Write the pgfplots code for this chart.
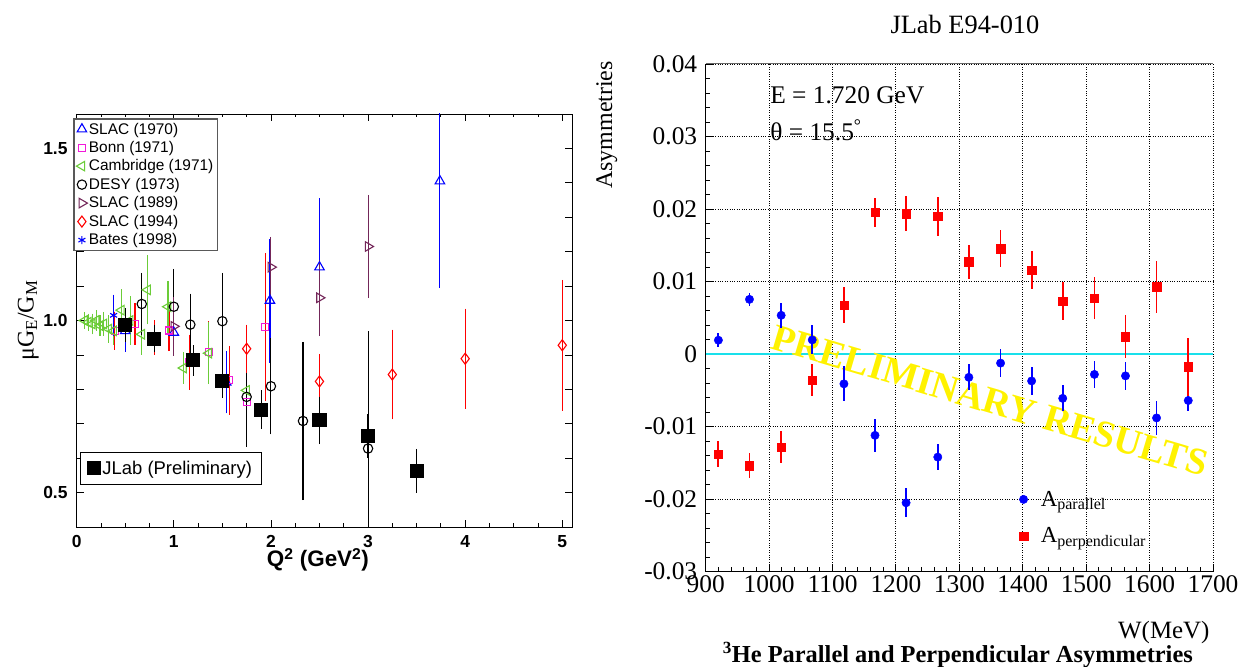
\documentclass[border=0pt]{standalone}
\usepackage{fontspec}
\setmainfont{Liberation Serif}
\newfontfamily\arial{Liberation Sans}
\usepackage{pgfplots}
\pgfplotsset{compat=1.18}

\definecolor{slacA}{rgb}{0,0,1}
\definecolor{bonn}{rgb}{0.95,0.1,0.85}
\definecolor{camb}{rgb}{0.42,0.8,0.22}
\definecolor{slacB}{rgb}{0.45,0.15,0.35}
\definecolor{zeroline}{rgb}{0.1,0.88,0.92}

\pgfplotsset{
  ebar/.style={only marks, line width=1.1bp,
    error bars/y dir=both, error bars/y explicit,
    error bars/error bar style={line width=1.1bp},
    error bars/error mark options={mark size=3.5bp, line width=1.1bp}},
  lbox/.style={scale only axis, width=495.3bp, height=413bp,
    at={(76.7bp,140bp)}, anchor=south west,
    xmin=0, xmax=5.1, ymin=0.4, ymax=1.6},
}

\begin{document}
\begin{tikzpicture}
\useasboundingbox (0,0) rectangle (1245bp,667bp);

% ---------------- left panel: muGE/GM vs Q2 ----------------
\begin{axis}[lbox,
  xtick={0,1,2,3,4,5}, minor x tick num=3,
  ytick={0.4,0.5,0.6,0.7,0.8,0.9,1.0,1.1,1.2,1.3,1.4,1.5,1.6},
  yticklabels={,0.5,,,,,1.0,,,,,1.5,},
  tick align=inside, major tick length=7bp, minor tick length=3.5bp,
  axis line style={line width=0.9bp},
  every tick/.style={black, line width=0.8bp},
  ticklabel style={font=\arial\bfseries\fontsize{17.5}{17.5}\selectfont, inner sep=1bp},
  xticklabel style={yshift=-7bp}, yticklabel style={xshift=-8bp},
  /pgf/number format/assume math mode=true,
  xlabel={Q\textsuperscript{2} (GeV\textsuperscript{2})},
  xlabel style={at={(axis description cs:0.487,-0.08)}, anchor=center,
    font=\arial\bfseries\fontsize{22.5}{22.5}\selectfont},
  ylabel={μG\textsubscript{E}/G\textsubscript{M}},
  ylabel style={at={(axis description cs:-0.098,0.5)}, anchor=center,
    font=\fontsize{24}{24}\selectfont},
  legend style={at={(axis description cs:-0.007,0.99)}, anchor=north west,
    draw=black!65, line width=1.4bp, fill=white,
    font=\arial\fontsize{15.5}{15.5}\selectfont,
    inner sep=2.5bp, row sep=2.8bp, nodes={inner sep=1.5bp}},
  legend cell align=left,
]
\addplot[ebar, slacA, mark=triangle, mark size=5.5bp] table[row sep=\\, y error index=2] {
0.50 0.970 0.05\\ 1.00 0.965 0.05\\ 1.54 0.820 0.08\\ 1.99 1.058 0.17\\
2.50 1.155 0.19\\ 3.74 1.405 0.30\\};
\addlegendentry{SLAC (1970)}
\addplot[ebar, bonn, mark=square, mark size=3.5bp,
  error bars/error bar style={red, line width=1.1bp},
  error bars/error mark options={red, mark size=3.5bp, line width=1.1bp}]
  table[row sep=\\, y error index=2] {
0.39 0.970 0.045\\ 0.60 0.990 0.05\\ 0.80 0.950 0.04\\ 0.95 0.971 0.05\\
1.16 0.879 0.07\\ 1.36 0.908 0.08\\ 1.57 0.826 0.09\\ 1.75 0.763 0.05\\
1.94 0.980 0.205\\};
\addlegendentry{Bonn (1971)}
\addplot[ebar, camb, mark=triangle, mark size=5.5bp, mark options={rotate=90}]
  table[row sep=\\, y error index=2] {
0.08 1.000 0.015\\ 0.12 0.995 0.015\\ 0.16 0.990 0.02\\ 0.20 1.000 0.02\\
0.24 0.985 0.02\\ 0.28 0.990 0.025\\ 0.33 0.975 0.03\\ 0.38 0.970 0.03\\
0.46 1.030 0.05\\ 0.55 1.000 0.06\\ 0.67 0.960 0.05\\ 0.73 1.089 0.09\\
0.94 1.040 0.065\\ 1.10 0.862 0.035\\ 1.36 0.905 0.08\\ 1.75 0.797 0.04\\};
\addlegendentry{Cambridge (1971)}
\addplot[ebar, black, mark=o, mark size=4.7bp] table[row sep=\\, y error index=2] {
0.67 1.048 0.08\\ 1.00 1.040 0.10\\ 1.17 0.988 0.08\\ 1.50 0.998 0.13\\
1.75 0.778 0.135\\ 2.00 0.809 0.13\\ 2.33 0.708 0.22\\ 3.00 0.628 0.33\\};
\addlegendentry{DESY (1973)}
\addplot[ebar, slacB, mark=triangle, mark size=5.5bp, mark options={rotate=-90}]
  table[row sep=\\, y error index=2] {
1.00 0.983 0.075\\ 2.00 1.155 0.078\\ 2.50 1.066 0.10\\ 3.00 1.215 0.14\\};
\addlegendentry{SLAC (1989)}
\addplot[ebar, red, mark=diamond, mark size=5.5bp] table[row sep=\\, y error index=2] {
1.75 0.918 0.06\\ 2.50 0.823 0.07\\ 3.25 0.843 0.12\\ 4.00 0.889 0.135\\
5.00 0.928 0.18\\};
\addlegendentry{SLAC (1994)}
\addplot[ebar, slacA, mark=asterisk, mark size=4bp] table[row sep=\\, y error index=2] {
0.38 1.015 0.05\\};
\addlegendentry{Bates (1998)}
\end{axis}

% JLab points, drawn on top with their own legend
\begin{axis}[lbox, hide axis,
  legend style={at={(axis description cs:0.0067,0.182)}, anchor=north west,
    draw=black, line width=0.9bp, fill=white,
    font=\arial\fontsize{18.5}{18.5}\selectfont,
    inner xsep=7bp, inner ysep=6.5bp, nodes={inner sep=2bp}},
]
\addplot[ebar, black, mark=square*, mark size=6.5bp,
  error bars/error mark options={mark size=6.5bp, line width=1.4bp},
  error bars/error bar style={line width=1.4bp}]
  table[row sep=\\, y error index=2] {
0.50 0.986 0.03\\ 0.80 0.947 0.02\\ 1.20 0.884 0.025\\ 1.50 0.823 0.03\\
1.90 0.741 0.037\\ 2.50 0.710 0.05\\ 3.00 0.664 0.045\\ 3.50 0.563 0.045\\};
\addlegendentry{JLab (Preliminary)}
\end{axis}

% ---------------- right panel: asymmetries vs W ----------------
\begin{axis}[scale only axis, width=507.3bp, height=507.7bp,
  at={(705.7bp,95.3bp)}, anchor=south west,
  xmin=900, xmax=1700, ymin=-0.03, ymax=0.04,
  clip mode=individual,
  xtick={900,1000,1100,1200,1300,1400,1500,1600,1700}, minor x tick num=4,
  ytick={-0.03,-0.02,-0.01,0,0.01,0.02,0.03,0.04},
  yticklabels={-0.03,-0.02,-0.01,0,0.01,0.02,0.03,0.04},
  scaled y ticks=false,
  minor y tick num=4,
  axis lines=left, axis line style={-, line width=1.1bp},
  tick align=inside, major tick length=7bp, minor tick length=4.5bp,
  every tick/.style={black, line width=0.9bp},
  grid=major, grid style={dotted, black, line width=0.9bp},
  ticklabel style={font=\fontsize{25.5}{25.5}\selectfont},
  yticklabel style={xshift=-5bp},
  /pgf/number format/assume math mode=true,
  /pgf/number format/1000 sep={},
  title={JLab E94-010},
  title style={at={(axis description cs:0.511,1.066)}, anchor=center,
    font=\fontsize{26.5}{26.5}\selectfont},
  xlabel={W(MeV)},
  xlabel style={at={(axis description cs:1,-0.119)}, anchor=east,
    font=\fontsize{25}{25}\selectfont},
  ylabel={Asymmetries},
  ylabel style={at={(axis description cs:-0.195,0.88)}, anchor=center,
    font=\fontsize{24}{24}\selectfont},
  legend style={draw=none, fill=none, at={(axis description cs:0.612,0.167)},
    anchor=north west, font=\fontsize{23}{23}\selectfont, row sep=16bp},
  legend cell align=left,
]
\draw[black!60, line width=1bp] (rel axis cs:0,1) -- (rel axis cs:1,1);
\addplot[zeroline, line width=2bp, forget plot] coordinates {(900,0) (1700,0)};
\node[rotate=-16.5, text=yellow, font=\bfseries\fontsize{38}{38}\selectfont]
  at (axis cs:1348,-0.0064) {PRELIMINARY RESULTS};
\node[anchor=west, font=\fontsize{25.5}{25.5}\selectfont, inner sep=0]
  at (axis description cs:0.127,0.939) {E = 1.720 GeV};
\node[anchor=west, font=\fontsize{25.5}{25.5}\selectfont, inner sep=0]
  at (axis description cs:0.127,0.870) {θ = 15.5\textsuperscript{°}};
\node[font=\bfseries\fontsize{24.5}{24.5}\selectfont]
  at (axis description cs:0.497,-0.164) {\textsuperscript{3}He Parallel and Perpendicular Asymmetries};

\addplot[only marks, blue, mark=*, mark size=4.2bp,
  error bars/.cd, y dir=both, y explicit, error mark=none,
  error bar style={line width=1.8bp}]
  table[row sep=\\, y error index=2] {
920 0.00192 0.0010\\ 969 0.00755 0.0009\\ 1019 0.00535 0.0017\\
1068 0.00196 0.0020\\ 1118 -0.0041 0.0024\\ 1167 -0.0112 0.0023\\
1216 -0.0205 0.0020\\ 1266 -0.0142 0.0018\\ 1315 -0.0032 0.0018\\
1365 -0.00124 0.0019\\ 1414 -0.0037 0.0019\\ 1463 -0.0061 0.0018\\
1513 -0.0028 0.0019\\ 1562 -0.0030 0.0019\\ 1611 -0.0088 0.0024\\
1661 -0.0064 0.0015\\};
\addlegendentry{\hspace{11bp}A\textsubscript{parallel}}
\addplot[only marks, red, mark=square*, mark size=4.2bp,
  error bars/.cd, y dir=both, y explicit, error mark=none,
  error bar style={line width=1.8bp}]
  table[row sep=\\, y error index=2] {
920 -0.01383 0.0018\\ 969 -0.0154 0.0017\\ 1019 -0.01283 0.0022\\
1068 -0.00357 0.0022\\ 1118 0.00673 0.0025\\ 1167 0.01955 0.0020\\
1216 0.01937 0.0024\\ 1266 0.0190 0.0027\\ 1315 0.01272 0.0023\\
1365 0.01456 0.0025\\ 1414 0.01158 0.0026\\ 1463 0.00732 0.0026\\
1513 0.00773 0.0029\\ 1562 0.00242 0.0030\\ 1611 0.00929 0.0036\\
1661 -0.00174 0.0040\\};
\addlegendentry{\hspace{11bp}A\textsubscript{perpendicular}}
\end{axis}
\end{tikzpicture}
\end{document}
